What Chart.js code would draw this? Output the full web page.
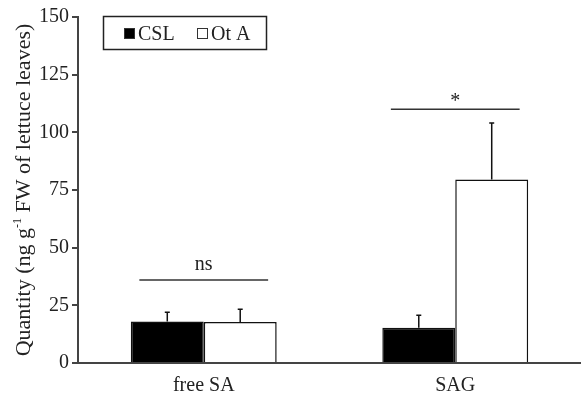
<!DOCTYPE html>
<html>
<head>
<meta charset="utf-8">
<script src="https://cdn.jsdelivr.net/npm/chart.js@4"></script>
<style>
  html, body { margin: 0; padding: 0; background: #fff; }
  #wrap { width: 581px; height: 394px; }
</style>
</head>
<body>
<div id="wrap"><canvas id="chart" width="581" height="394"></canvas></div>
<script>
// values
const categories = ["free SA", "SAG"];
const series_names = ["CSL", "Ot A"];
const csl_mean = [18.0, 15.3];
const csl_err = [4.0, 5.4];      // upper error (SD)
const ota_mean = [17.8, 79.5];
const ota_err = [5.5, 24.5];
const y_ticks = [0, 25, 50, 75, 100, 125, 150];
// significance marks: [category index, label, line height]
const signif = [[0, "ns", 36], [1, "*", 110]];

const FONT = "'Liberation Serif', 'Times New Roman', serif";
const INK = "#222";

// upward error bars with a small cap
const errorBars = {
    id: 'errorBars',
    afterDatasetsDraw(chart) {
        const ctx = chart.ctx;
        const y = chart.scales.y;
        ctx.save();
        ctx.strokeStyle = "#111";
        ctx.lineWidth = 1.5;
        chart.data.datasets.forEach((ds, i) => {
            chart.getDatasetMeta(i).data.forEach((bar, j) => {
                const top = y.getPixelForValue(ds.data[j] + ds.err[j]);
                ctx.beginPath();
                ctx.moveTo(bar.x, bar.y);
                ctx.lineTo(bar.x, top);
                ctx.moveTo(bar.x - 2.5, top);
                ctx.lineTo(bar.x + 2.5, top);
                ctx.stroke();
            });
        });
        ctx.restore();
    }
};

// "ns" / "*" lines over each group
const signifMarks = {
    id: 'signifMarks',
    afterDatasetsDraw(chart) {
        const ctx = chart.ctx;
        const x = chart.scales.x, y = chart.scales.y;
        const half = (x.getPixelForValue(1) - x.getPixelForValue(0)) * 0.256;
        ctx.save();
        ctx.strokeStyle = "#333";
        ctx.lineWidth = 1.5;
        ctx.fillStyle = INK;
        ctx.textAlign = 'center';
        signif.forEach(([idx, txt, h]) => {
            const cx = x.getPixelForValue(idx);
            const py = y.getPixelForValue(h);
            ctx.beginPath();
            ctx.moveTo(cx - half, py);
            ctx.lineTo(cx + half, py);
            ctx.stroke();
            ctx.font = "20px " + FONT;
            ctx.textBaseline = 'alphabetic';
            ctx.fillText(txt, cx, py - (txt === "*" ? 2 : 10));
        });
        ctx.restore();
    }
};

// boxed legend and rotated y title with superscript
const decorations = {
    id: 'decorations',
    afterDraw(chart) {
        const ctx = chart.ctx;
        ctx.save();
        // legend box
        ctx.strokeStyle = "#222";
        ctx.lineWidth = 1.5;
        ctx.strokeRect(103.5, 16.5, 163, 33);
        ctx.font = "20px " + FONT;
        ctx.textBaseline = 'alphabetic';
        const items = [[124, 0], [197, 1]];
        items.forEach(([lx, i]) => {
            const ds = chart.data.datasets[i];
            ctx.fillStyle = ds.backgroundColor;
            ctx.fillRect(lx, 28, 11, 11);
            ctx.strokeStyle = "#333";
            ctx.lineWidth = 1;
            ctx.strokeRect(lx + 0.5, 28.5, 10, 10);
            ctx.fillStyle = INK;
            ctx.fillText(ds.label, lx + 14, 40);
        });

        // y axis title
        ctx.translate(30, 190);
        ctx.rotate(-Math.PI / 2);
        ctx.textBaseline = 'alphabetic';
        const size = 22;
        const parts = [["Quantity (ng g", size, 0], ["-1", 12, -9], [" FW of lettuce leaves)", size, 0]];
        let total = 0;
        parts.forEach(([t, s]) => { ctx.font = s + "px " + FONT; total += ctx.measureText(t).width; });
        let px = -total / 2;
        parts.forEach(([t, s, dy]) => {
            ctx.font = s + "px " + FONT;
            ctx.fillText(t, px, dy);
            px += ctx.measureText(t).width;
        });
        ctx.restore();
    }
};

new Chart(document.getElementById("chart").getContext('2d'), {
    type: 'bar',
    data: {
        labels: categories,
        datasets: [
            {
                label: series_names[0],
                data: csl_mean,
                err: csl_err,
                backgroundColor: "#000",
                borderColor: "#111",
                borderWidth: 1.5
            },
            {
                label: series_names[1],
                data: ota_mean,
                err: ota_err,
                backgroundColor: "#fff",
                borderColor: "#111",
                borderWidth: 1.5
            }
        ]
    },
    options: {
        responsive: false,
        animation: false,
        devicePixelRatio: 1,
        layout: { padding: { left: 0, right: -3, top: 17, bottom: 0 } },
        plugins: {
            legend: { display: false },
            tooltip: { enabled: false }
        },
        datasets: {
            bar: { barPercentage: 1.0, categoryPercentage: 0.58 }
        },
        scales: {
            x: {
                grid: { display: false },
                border: { display: true, color: "#444", width: 2 },
                ticks: { color: INK, font: { family: FONT, size: 20 }, padding: 3 },
                afterFit(scale) { scale.height = 31; }
            },
            y: {
                min: 0,
                max: 150,
                afterBuildTicks(scale) { scale.ticks = y_ticks.map(v => ({ value: v })); },
                grid: { display: true, drawOnChartArea: false, drawTicks: true, tickLength: 6, color: "#444", lineWidth: 2 },
                border: { display: true, color: "#444", width: 2 },
                ticks: { color: INK, font: { family: FONT, size: 20 }, padding: 3 },
                afterFit(scale) { scale.width = 78; }
            }
        }
    },
    plugins: [errorBars, signifMarks, decorations]
});
</script>
</body>
</html>
